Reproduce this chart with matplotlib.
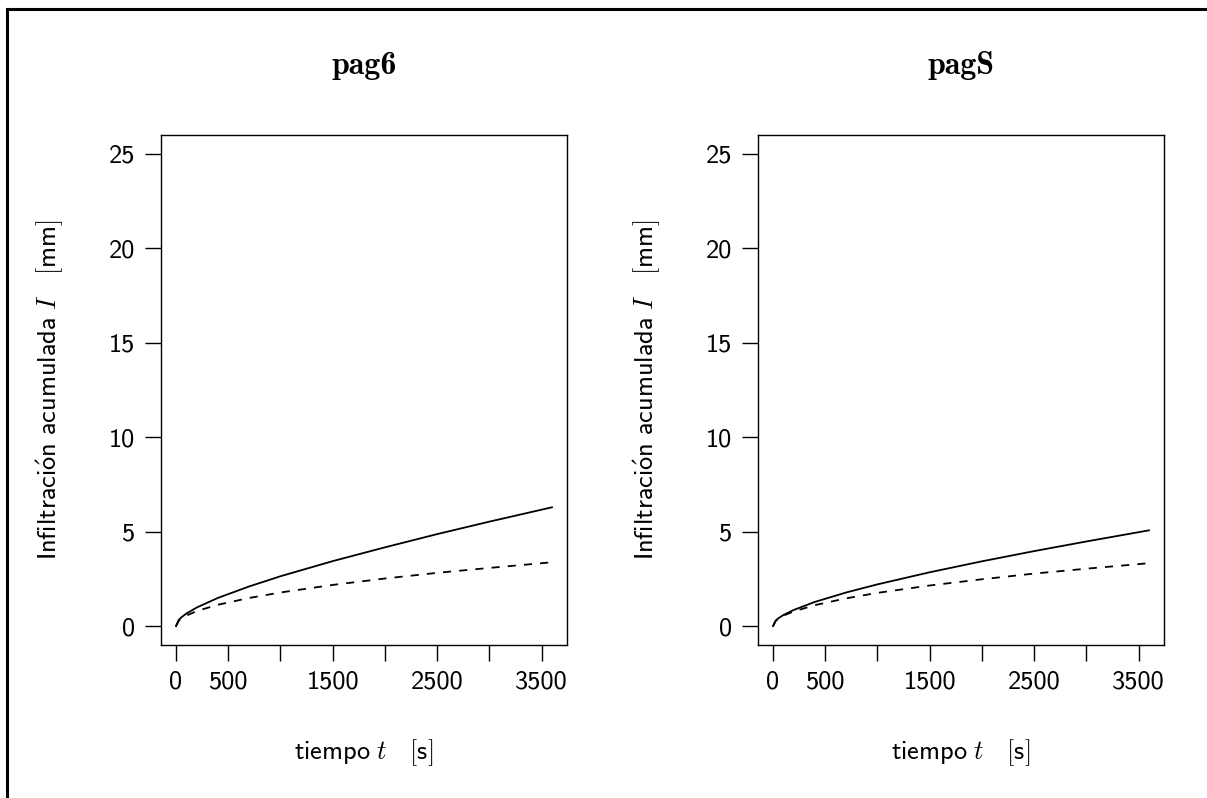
import matplotlib.pyplot as plt
from matplotlib.lines import Line2D

plt.rcParams['font.family'] = ['cmss10', 'DejaVu Sans']
plt.rcParams['mathtext.fontset'] = 'cm'
plt.rcParams['axes.unicode_minus'] = False

# tiempo [s]
t = [0, 25, 50, 100, 200, 400, 700, 1000, 1500, 2000, 2500, 3000, 3600]

# pag6
pag6_solid = [0, 0.32, 0.46, 0.67, 0.99, 1.49, 2.10, 2.64, 3.44, 4.17, 4.87, 5.53, 6.29]
pag6_dash = [0, 0.28, 0.40, 0.56, 0.80, 1.13, 1.49, 1.78, 2.18, 2.52, 2.82, 3.08, 3.38]

# pagS
pagS_solid = [0, 0.28, 0.41, 0.59, 0.86, 1.28, 1.78, 2.21, 2.85, 3.43, 3.97, 4.48, 5.07]
pagS_dash = [0, 0.28, 0.39, 0.56, 0.78, 1.11, 1.47, 1.76, 2.15, 2.48, 2.78, 3.04, 3.33]

titles = ['pag6', 'pagS']
x_ticks = [0, 500, 1000, 1500, 2000, 2500, 3000, 3500]
x_ticklabels = ['0', '500', '', '1500', '', '2500', '', '3500']
y_ticks = [0, 5, 10, 15, 20, 25]

fig = plt.figure(figsize=(12.07, 7.98), dpi=100)

# marco de la figura (solo arriba e izquierda visibles)
fig.add_artist(Line2D([7 / 1207, 7 / 1207], [0, 1 - 9 / 798], transform=fig.transFigure,
                      color='black', lw=2.2))
fig.add_artist(Line2D([7 / 1207, 1], [1 - 9 / 798, 1 - 9 / 798], transform=fig.transFigure,
                      color='black', lw=2.2))

panels = [(pag6_solid, pag6_dash), (pagS_solid, pagS_dash)]
lefts = [161 / 1207, 758 / 1207]

for left, title, (solid, dash) in zip(lefts, titles, panels):
    ax = fig.add_axes([left, 1 - 645 / 798, 406 / 1207, 510 / 798])
    ax.plot(t, solid, color='black', lw=1.3)
    ax.plot(t, dash, color='black', lw=1.3, dashes=(4.5, 4.5))
    ax.set_xlim(-144, 3744)
    ax.set_ylim(-1, 26)
    ax.set_xticks(x_ticks)
    ax.set_xticklabels(x_ticklabels)
    ax.set_yticks(y_ticks)
    ax.tick_params(direction='out', length=11.5, width=1.0, labelsize=19, pad=7)
    for s in ax.spines.values():
        s.set_linewidth(1.0)
    ax.set_title(title, family=['cmb10', 'DejaVu Serif'], fontsize=23, pad=44)
    ax.set_xlabel(r'$\mathsf{tiempo}\ t\quad[\mathsf{s}]$', fontsize=19, labelpad=31)
    ax.set_ylabel(r'$\mathsf{Infiltraci\acute{o}n\ acumulada}\ I\quad[\mathsf{mm}]$',
                  fontsize=19, labelpad=31)

fig.savefig('out.png', dpi=100)
